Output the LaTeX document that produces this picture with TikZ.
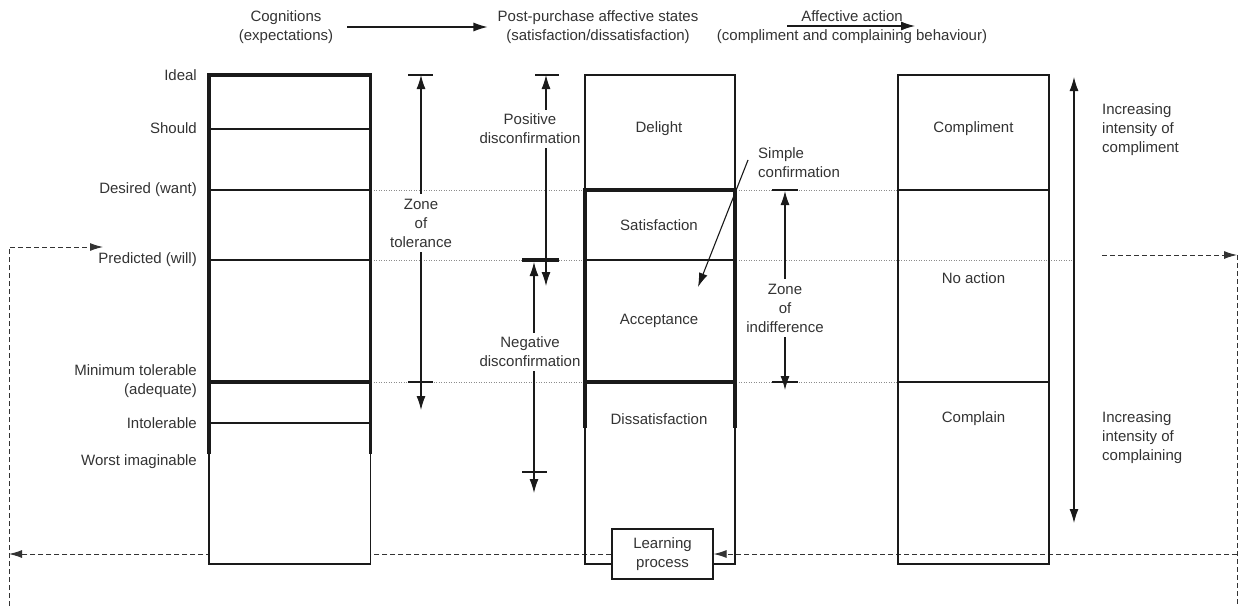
\documentclass[tikz,border=0pt]{standalone}
\usepackage{fontspec}
\setmainfont{Liberation Sans}
\usetikzlibrary{arrows.meta}
\definecolor{ink}{HTML}{333333}
\definecolor{ln}{HTML}{1A1A1A}
\begin{document}
\begin{tikzpicture}[x=1pt,y=-1pt,
 lbl/.style={font=\fontsize{15}{19}\selectfont, text=ink, inner sep=1pt, align=center},
 lnthin/.style={line width=1.1pt, draw=ln},
 lnthick/.style={line width=3.8pt, draw=ln, line join=miter},
 dotln/.style={line width=0.8pt, draw=black!45, dash pattern=on 1.2pt off 1.3pt},
 dashln/.style={line width=1pt, draw=black!80, dash pattern=on 5pt off 3pt},
 arrowend/.style={lnthin, -{Latex[length=14pt,width=9pt]}},
 arrowboth/.style={lnthin, {Latex[length=14pt,width=9pt]}-{Latex[length=14pt,width=9pt]}},
 dasharrow/.style={dashln, -{Latex[length=13pt,width=8pt]}},
 barln/.style={line width=1.1pt, draw=ln},
]
\useasboundingbox (0,0) rectangle (1245,608);

% ---------- header ----------
\node[lbl] (cog) at (286,27) {Cognitions\\(expectations)};
\node[lbl] (pps) at (598,27) {Post-purchase affective states\\(satisfaction/dissatisfaction)};
\node[lbl] (aa) at (852,27) {Affective action\\(compliment and complaining behaviour)};
\draw[arrowend, shorten <=13pt, shorten >=9pt] (cog) -- (pps);
\coordinate (aas) at (787,26);
\coordinate (aae) at (915,26);
\draw[arrowend] (aas) -- (aae);

% ---------- dotted guide lines ----------
\draw[dotln] (371,190) -- (898,190);
\draw[dotln] (371,260) -- (1074,260);
\draw[dotln] (371,382) -- (898,382);

% ---------- dashed feedback loop ----------
\node[lbl, draw=ln, line width=1.1pt, fill=white, minimum width=101pt, minimum height=50pt] (learn) at (662.5,554) {Learning\\process};
\coordinate (lt) at (9,247);
\coordinate (lb) at (9,606);
\coordinate (ltip) at (103,247);
\coordinate (lbot) at (9,554);
\coordinate (rs) at (1102,255);
\coordinate (rt) at (1237,255);
\coordinate (rb) at (1237,606);
\coordinate (rbot) at (1237,554);
\draw[dasharrow] (lb) -- (lt) -- (ltip);
\draw[dasharrow] (rs) -- (rt);
\draw[dashln] (rt) -- (rb);
\draw[dasharrow] (rbot) -- (learn.east);
\draw[dasharrow] (learn.west) -- (lbot);

% ---------- left column (cognitions) ----------
\draw[lnthin, fill=white] (209,75) rectangle (370.5,564);
\draw[lnthick] (209,454) -- (209,75) -- (370.5,75) -- (370.5,454);
\draw[lnthick] (209,382) -- (370.5,382);
\draw[lnthin] (209,129) -- (370.5,129);
\draw[lnthin] (209,190) -- (370.5,190);
\draw[lnthin] (209,260) -- (370.5,260);
\draw[lnthin] (209,423) -- (370.5,423);

\node[lbl, anchor=east] (ideal) at (198,75) {Ideal};
\node[lbl, anchor=east] (should) at (198,128) {Should};
\node[lbl, anchor=east] (desired) at (198,190) {Desired (want)};
\node[lbl, anchor=east] (predicted) at (198,260) {Predicted (will)};
\node[lbl, anchor=east, align=right] (mintol) at (198,381.5) {Minimum tolerable\\(adequate)};
\node[lbl, anchor=east] (intol) at (198,423) {Intolerable};
\node[lbl, anchor=east] (worst) at (198,462) {Worst imaginable};

% ---------- zone of tolerance ----------
\coordinate (ztt) at (421,75);
\coordinate (ztb) at (421,410);
\draw[barln] (408,75) -- (433,75);
\draw[barln] (408,382) -- (433,382);
\node[lbl] (zt) at (421,223) {Zone\\of\\tolerance};
\draw[arrowend, shorten <=4pt] (zt.north) -- (ztt);
\draw[arrowend, shorten <=4pt] (zt.south) -- (ztb);

% ---------- disconfirmation ----------
\coordinate (pdx) at (546,75);
\coordinate (pdb) at (546,286);
\draw[barln] (535,75) -- (559,75);
\draw[line width=3.5pt, draw=ln] (522,260) -- (559,260);
\node[lbl] (pd) at (530,129) {Positive\\disconfirmation};
\draw[arrowend, shorten <=3pt] (pd.north -| pdx) -- (pdx);
\draw[arrowend, shorten <=3pt] (pd.south -| pdx) -- (pdb);

\coordinate (ndx) at (534,262);
\coordinate (ndb) at (534,493);
\draw[barln] (522,472) -- (547,472);
\node[lbl] (nd) at (530,352) {Negative\\disconfirmation};
\draw[arrowend, shorten <=3pt] (nd.north -| ndx) -- (ndx);
\draw[arrowend, shorten <=3pt] (nd.south -| ndx) -- (ndb);

% ---------- middle column (affective states) ----------
\coordinate (mbl) at (585,564);
\coordinate (mtl) at (585,75);
\coordinate (mtr) at (735,75);
\coordinate (mbr) at (735,564);
\draw[lnthin] (learn.west |- mbl) -- (mbl) -- (mtl) -- (mtr) -- (mbr) -- (learn.east |- mbr);
\draw[lnthick] (585,428) -- (585,190) -- (735,190) -- (735,428);
\draw[lnthick] (585,382) -- (735,382);
\draw[lnthin] (585,260) -- (735,260);
\node[lbl] (delight) at (659,129) {Delight};
\node[lbl] (satis) at (659,225) {Satisfaction};
\node[lbl] (accept) at (659,321) {Acceptance};
\node[lbl] (dissat) at (659,419) {Dissatisfaction};

% ---------- simple confirmation ----------
\node[lbl, anchor=west, align=left] (sc) at (757,163) {Simple\\confirmation};
\coordinate (scs) at (748,160);
\coordinate (sce) at (698,287);
\draw[arrowend] (scs) -- (sce);

% ---------- zone of indifference ----------
\coordinate (zix) at (785,191);
\coordinate (zib) at (785,390);
\draw[barln] (772,190) -- (798,190);
\draw[barln] (772,382) -- (798,382);
\node[lbl] (zi) at (785,308) {Zone\\of\\indifference};
\draw[arrowend, shorten <=4pt] (zi.north) -- (zix);
\draw[arrowend, shorten <=4pt] (zi.south) -- (zib);

% ---------- right column (affective action) ----------
\draw[lnthin] (898,75) rectangle (1049,564);
\draw[lnthin] (898,190) -- (1049,190);
\draw[lnthin] (898,382) -- (1049,382);
\node[lbl] (compl) at (973.5,129) {Compliment};
\node[lbl] (noact) at (973.5,278) {No action};
\node[lbl] (complain) at (973.5,419) {Complain};

\coordinate (ia) at (1074,77);
\coordinate (ib) at (1074,523);
\draw[arrowboth] (ib) -- (ia);
\node[lbl, anchor=west, align=left] (inc1) at (1101,130) {Increasing\\intensity of\\compliment};
\node[lbl, anchor=west, align=left] (inc2) at (1101,438) {Increasing\\intensity of\\complaining};
\end{tikzpicture}
\end{document}
